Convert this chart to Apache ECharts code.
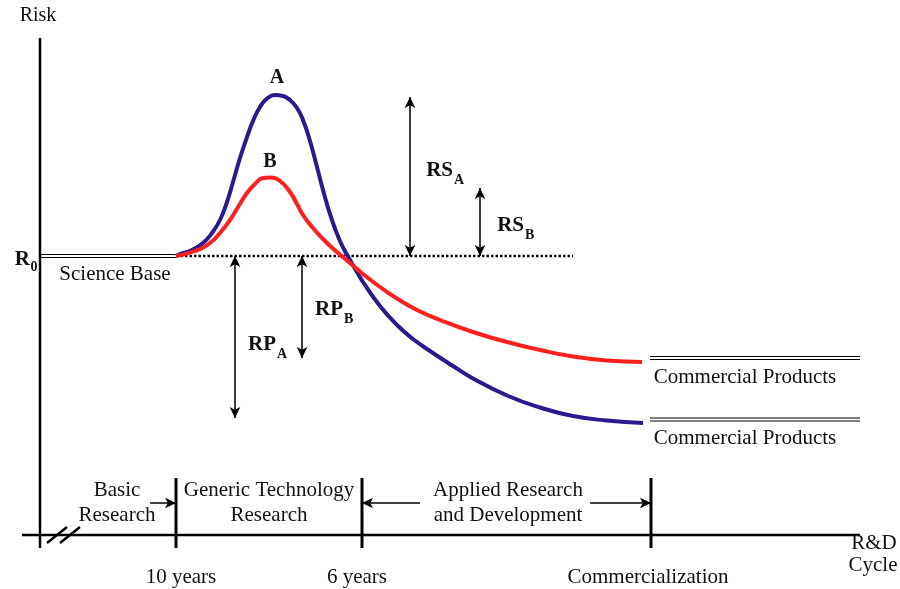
<!DOCTYPE html>
<html><head><meta charset="utf-8">
<script src="https://cdn.jsdelivr.net/npm/echarts@6/dist/echarts.min.js"></script>
<style>html,body{margin:0;padding:0;background:#fff}#c{width:900px;height:589px}</style>
</head><body><div id="c"></div>
<script>
// Curve A (blue) and Curve B (red): [R&D position, risk]
const curveA = [[15.6,55.8],[16.0,56.2],[17.2,57],[18.3,58.4],[19.2,60.4],[20.0,63],[20.7,66.6],[21.3,70.6],[22.0,75.4],[22.7,79.6],[23.3,82.8],[24.0,85.6],[24.7,87.3],[25.5,88],[26.3,87.8],[27.0,87],[27.7,85.4],[28.3,83],[29.0,78.8],[29.7,73.6],[30.3,69],[31.0,64.2],[32.0,58.8],[33.0,55],[33.7,52.6],[34.3,50.6],[36.0,45.8],[37.7,42],[39.3,39.2],[41.3,36.4],[43.3,33.8],[45.3,31.3],[48.7,27.9],[52.0,25.5],[55.3,23.8],[58.7,22.9],[62.3,22.4]];
const curveB = [[15.6,55.8],[17.5,56.8],[19.0,58.4],[20.0,60.4],[21.0,63],[21.9,65.9],[22.7,68.4],[23.5,70.2],[24.3,71.4],[25.0,71.5],[26.0,70.8],[27.0,68.6],[27.7,66.2],[28.3,64],[29.3,61.4],[30.3,59.2],[31.7,56.6],[33.0,54.4],[34.3,52.2],[36.0,49.6],[37.7,47.3],[39.7,45],[42.0,43],[45.3,40.6],[48.7,38.6],[52.0,37],[55.3,35.7],[58.7,34.9],[62.2,34.6]];
const riskBase = 55.8;          // R0 level
const scienceBaseEnd = 15.6;    // end of science base
const dottedEnd = 55.3;
const phaseTicks = [15.6, 34.2, 63.1];   // 10 years, 6 years, Commercialization
const phaseTickLabels = ['10 years', '6 years', 'Commercialization'];
const productLevels = [35.4, 23.1];
// double-headed arrows: [x, yFrom, yTo]
const gapArrows = [[21.5, 55.8, 23.4], [28.2, 55.8, 35.4], [39, 55.8, 87.6], [46, 55.8, 69.4]];
// single arrows: [xFrom, xTo, y]
const phaseArrows = [[13, 15.6, 6.4], [40, 34.2, 6.4], [57, 63.1, 6.4]];

const FONT = 'Liberation Serif';
const BLACK = '#000';
function seg(pts, w, extra) {
  return Object.assign({type:'line', data:pts, symbol:'none', silent:true, animation:false,
    lineStyle:{color:BLACK, width:w}, z:3}, extra||{});
}
function lbl(text, x, y, o) {
  o = o || {};
  return {value:[x,y], label:{show:true, formatter:text, position:'inside',
    align:o.align||'center', verticalAlign:'middle', fontFamily:FONT,
    fontSize:o.size||21, fontWeight:o.bold?'bold':'normal', color:'#111',
    textBorderWidth:0, textShadowBlur:0, opacity:1}};
}
const labels = [
  lbl('Risk', 1.8, 103.8, {size:20}),
  lbl('A', 25.7, 91.4, {bold:true, size:20}),
  lbl('B', 25.0, 74.6, {bold:true, size:20}),
  lbl('R', 1.0, 55.0, {bold:true, align:'right', size:21}),
  lbl('0', 1.05, 53.6, {bold:true, align:'left', size:14}),
  lbl('Science Base', 9.5, 52.2),
  lbl('RS', 43.3, 72.8, {bold:true, align:'right'}),
  lbl('A', 43.4, 71.0, {bold:true, align:'left', size:14}),
  lbl('RS', 50.4, 61.8, {bold:true, align:'right'}),
  lbl('B', 50.5, 60.0, {bold:true, align:'left', size:14}),
  lbl('RP', 32.3, 45.0, {bold:true, align:'right'}),
  lbl('B', 32.4, 43.2, {bold:true, align:'left', size:14}),
  lbl('RP', 25.6, 38.0, {bold:true, align:'right'}),
  lbl('A', 25.7, 36.2, {bold:true, align:'left', size:14}),
  lbl('Commercial Products', 72.5, 31.6),
  lbl('Commercial Products', 72.5, 19.4),
  lbl('Basic', 9.7, 9),
  lbl('Research', 9.7, 4),
  lbl('Generic Technology', 24.9, 9),
  lbl('Research', 24.9, 4),
  lbl('Applied Research', 48.8, 9),
  lbl('and Development', 48.8, 4),
  lbl('R&D', 85.4, -1.6),
  lbl('Cycle', 85.3, -6),
].concat(phaseTicks.map((t,i)=>lbl(phaseTickLabels[i], [16.1,33.7,62.8][i], -8.4)));

const series = [
  seg([[2,-2.6],[2,99.4]], 2.5),
  seg([[0.2,0],[84,0]], 2.5),
  seg([[2.7,-1.6],[4.7,1.6]], 2.5),
  seg([[4.0,-1.6],[6.0,1.6]], 2.5),
  seg([[2,riskBase+0.3],[scienceBaseEnd,riskBase+0.3]], 1),
  seg([[2,riskBase-0.3],[scienceBaseEnd,riskBase-0.3]], 1),
  seg([[scienceBaseEnd,riskBase],[dottedEnd,riskBase]], 2.5, {lineStyle:{color:BLACK,width:2.5,type:[2.5,2]}}),
];
phaseTicks.forEach(t => series.push(seg([[t,-2.6],[t,11.4]], 3)));
productLevels.forEach(l => {
  series.push(seg([[63,l+0.3],[84,l+0.3]], 1.2));
  series.push(seg([[63,l-0.3],[84,l-0.3]], 1.2));
});
series.push({type:'line', data:curveA, smooth:0.5, symbol:'none', silent:true, animation:false,
  lineStyle:{color:'#2a1a8c', width:4}, z:5});
series.push({type:'line', data:curveB, smooth:0.5, symbol:'none', silent:true, animation:false,
  lineStyle:{color:'#ff1f1f', width:4}, z:6});
series.push({type:'scatter', data:[], silent:true, animation:false,
  markLine:{silent:true, animation:false, symbolSize:[8,11], label:{show:false},
    lineStyle:{color:BLACK, width:1.5, type:'solid'},
    data: gapArrows.map(a=>[{coord:[a[0],a[1]], symbol:'arrow'},{coord:[a[0],a[2]], symbol:'arrow'}])
      .concat(phaseArrows.map(a=>[{coord:[a[0],a[2]], symbol:'none'},{coord:[a[1],a[2]], symbol:'arrow'}]))
  }});
series.push({type:'scatter', data:labels, symbolSize:0, silent:true, animation:false, clip:false, z:10,
  itemStyle:{opacity:1}});

const chart = echarts.init(document.getElementById('c'), null, {renderer:'canvas'});
chart.setOption({
  animation:false,
  grid:{left:0, right:0, top:0, bottom:0},
  xAxis:{type:'value', min:-2, max:88, show:false},
  yAxis:{type:'value', min:-10.8, max:107, show:false},
  series: series
});
</script></body></html>
